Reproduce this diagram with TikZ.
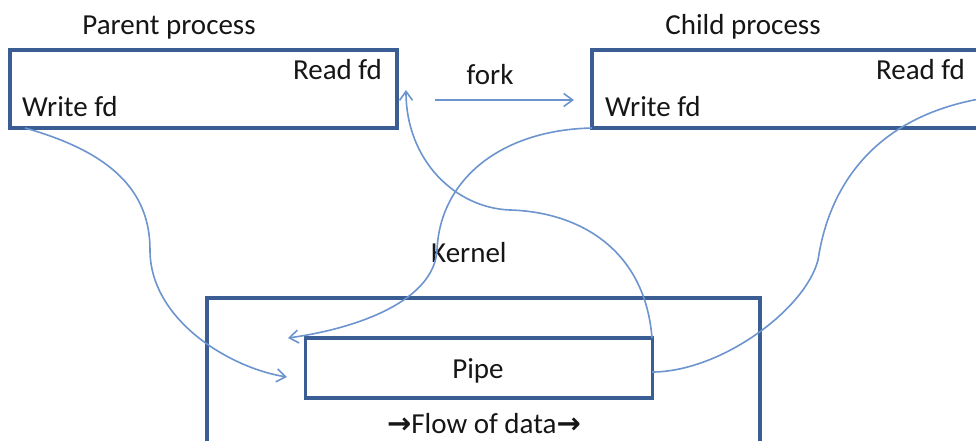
\documentclass[tikz,border=0pt]{standalone}
\usepackage{fontspec}
\setmainfont{Carlito}
\newfontfamily\arrowfont{DejaVu Sans}
\usetikzlibrary{arrows.meta}

\definecolor{boxblue}{RGB}{58,94,148}
\definecolor{linkblue}{RGB}{108,148,206}
\definecolor{ink}{RGB}{22,22,22}

\tikzset{
  procbox/.style={draw=boxblue, line width=3.1pt, rectangle, inner sep=0pt},
  label/.style={text=ink, inner sep=0pt, font=\fontsize{29}{34}\selectfont},
  link/.style={draw=linkblue, line width=1.6pt},
  linkarrow/.style={link, -{Straight Barb[length=9pt,width=13pt,line width=1.6pt]}},
}
% heavy arrow glyph used around the data-flow caption
\newcommand{\flowarrow}{{\arrowfont\bfseries\fontsize{29}{32}\selectfont →}}

\begin{document}
\begin{tikzpicture}[x=1pt,y=-1pt]
  \useasboundingbox (0,0) rectangle (976,441);
  \clip (0,0) rectangle (976,441);

  % process boxes
  \node[procbox, minimum width=387pt, minimum height=78pt] (parent) at (203.5,89) {};
  \node[procbox, minimum width=400pt, minimum height=78pt] (child) at (792,89) {};

  % kernel and pipe
  \node[procbox, minimum width=553pt, minimum height=180pt] (kernel) at (483.5,388) {};
  \node[procbox, minimum width=347pt, minimum height=60pt] (pipe) at (479,368) {};

  % texts
  \node[label, anchor=base] (ptitle) at (169,35) {Parent process};
  \node[label, anchor=base] (ctitle) at (743,35) {Child process};
  \node[label, anchor=base east] (pread) at (382,80) {Read fd};
  \node[label, anchor=base west] (pwrite) at (22,117) {Write fd};
  \node[label, anchor=base east] (cread) at (965,80) {Read fd};
  \node[label, anchor=base west] (cwrite) at (605,117) {Write fd};
  \node[label, anchor=base] (forklbl) at (490,85) {fork};
  \node[label, anchor=base west] (klbl) at (431,262) {Kernel};
  \node[label, anchor=base] (plbl) at (478,378) {Pipe};
  \node[label, anchor=base] (flow) at (484,433) {\flowarrow Flow of data\flowarrow};

  % connector end points
  \coordinate (forkA) at (435,100);
  \coordinate (forkB) at (574,100);
  \coordinate (pwOut) at (25,128);
  \coordinate (pipeInLow) at (287,377);
  \coordinate (pipeOutTop) at (652,338);
  \coordinate (preadIn) at (406,90);
  \coordinate (cwOut) at (592,128);
  \coordinate (pipeInTop) at (288,338);
  \coordinate (crOut) at (985,98);
  \coordinate (pipeEast) at (652,372);

  % fork
  \draw[linkarrow] (forkA) -- (forkB);

  % parent write fd -> pipe
  \draw[linkarrow] (pwOut) .. controls (110,152) and (150,190) .. (150,250)
                           .. controls (150,320) and (230,368) .. (pipeInLow);

  % pipe -> parent read fd
  \draw[linkarrow] (pipeOutTop) .. controls (645,250) and (580,212) .. (510,210)
                                .. controls (455,208) and (406,160) .. (preadIn);

  % child write fd -> pipe
  \draw[linkarrow] (cwOut) .. controls (500,130) and (440,180) .. (437,250)
                           .. controls (434,300) and (360,328) .. (pipeInTop);

  % pipe <- child read fd
  \draw[link] (crOut) .. controls (880,115) and (830,180) .. (818,260)
                      .. controls (805,310) and (720,372) .. (pipeEast);
\end{tikzpicture}
\end{document}
